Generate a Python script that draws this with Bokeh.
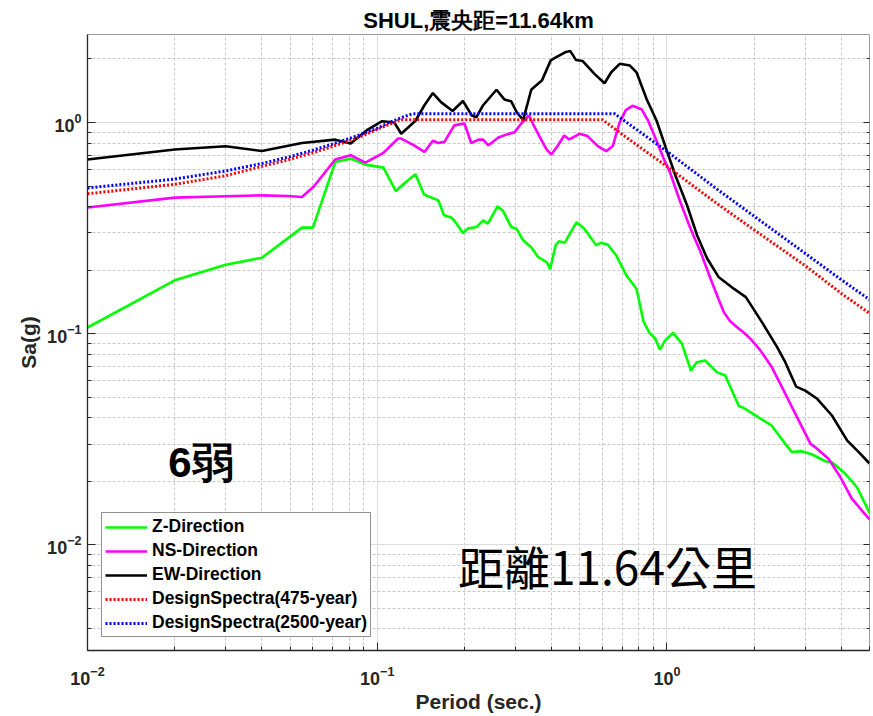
from bokeh.plotting import figure
from bokeh.models import FixedTicker, LogAxis, Label, Range1d, CustomJSTickFormatter
from bokeh.embed import file_html
from bokeh.resources import INLINE

# ---------------- data ----------------
z_period = [0.01, 0.02, 0.03, 0.04, 0.055, 0.06, 0.0716, 0.081, 0.091, 0.105, 0.116, 0.125,
            0.1355, 0.145, 0.1625, 0.17, 0.18, 0.1845, 0.1976, 0.2057, 0.22, 0.232, 0.241,
            0.26, 0.272, 0.29, 0.302, 0.319, 0.34, 0.359, 0.385, 0.395, 0.413, 0.424, 0.444,
            0.487, 0.518, 0.569, 0.593, 0.625, 0.668, 0.724, 0.763, 0.785, 0.80, 0.83, 0.87,
            0.91, 0.946, 0.985, 1.05, 1.124, 1.21, 1.267, 1.353, 1.486, 1.588, 1.767, 1.862,
            2.07, 2.3, 2.56, 2.7, 2.92, 3.17, 3.52, 3.71, 4.13, 4.53, 5.0]
z_sa = [0.107, 0.179, 0.212, 0.229, 0.318, 0.318, 0.65, 0.675, 0.632, 0.612, 0.474, 0.52,
        0.569, 0.456, 0.428, 0.364, 0.355, 0.344, 0.30, 0.315, 0.32, 0.344, 0.332,
        0.401, 0.381, 0.32, 0.315, 0.277, 0.257, 0.231, 0.218, 0.202, 0.263, 0.274, 0.27,
        0.337, 0.315, 0.263, 0.27, 0.264, 0.235, 0.189, 0.172, 0.163, 0.145, 0.114, 0.101,
        0.095, 0.084, 0.093, 0.101, 0.09, 0.067, 0.0733, 0.0747, 0.0658, 0.0634, 0.0457, 0.0441,
        0.0402, 0.0367, 0.0301, 0.0275, 0.0278, 0.0268, 0.0249, 0.0246, 0.0217, 0.0187, 0.0142]

ns_period = [0.01, 0.02, 0.03, 0.04, 0.049, 0.055, 0.0605, 0.0716, 0.081, 0.091, 0.105, 0.118,
             0.121, 0.134, 0.1455, 0.1556, 0.1625, 0.1706, 0.1845, 0.20, 0.211, 0.224, 0.232,
             0.242, 0.262, 0.279, 0.298, 0.314, 0.334, 0.349, 0.363, 0.384, 0.399, 0.419, 0.442,
             0.46, 0.499, 0.532, 0.577, 0.617, 0.65, 0.686, 0.721, 0.76, 0.817, 0.861, 0.921,
             0.972, 1.026, 1.11, 1.205, 1.306, 1.414, 1.5, 1.573, 1.65, 1.75, 1.862, 1.95, 2.1,
             2.3, 2.56, 2.85, 3.13, 3.25, 3.61, 3.97, 4.34, 5.0]
ns_sa = [0.396, 0.441, 0.448, 0.452, 0.449, 0.444, 0.499, 0.668, 0.70, 0.646, 0.718, 0.84,
         0.84, 0.78, 0.726, 0.82, 0.80, 0.81, 0.97, 0.99, 0.80, 0.83, 0.83,
         0.78, 0.85, 0.877, 0.90, 0.99, 1.08, 0.953, 0.86, 0.746, 0.706, 0.774, 0.869,
         0.832, 0.885, 0.863, 0.774, 0.732, 0.774, 1.0, 1.145, 1.2, 1.157, 1.02, 0.817,
         0.68, 0.577, 0.423, 0.315, 0.244, 0.182, 0.148, 0.126, 0.115, 0.107, 0.10, 0.094, 0.0834,
         0.0695, 0.052, 0.0388, 0.0301, 0.029, 0.0256, 0.0209, 0.0166, 0.0132]

ew_period = [0.01, 0.02, 0.03, 0.04, 0.055, 0.0716, 0.081, 0.0927, 0.104, 0.1146, 0.121, 0.1355,
             0.1455, 0.1556, 0.166, 0.182, 0.1976, 0.212, 0.22, 0.232, 0.258, 0.275, 0.29,
             0.304, 0.319, 0.34, 0.3475, 0.37, 0.397, 0.415, 0.448, 0.464, 0.485, 0.512, 0.562,
             0.609, 0.642, 0.687, 0.745, 0.785, 0.851, 0.921, 1.0, 1.067, 1.172, 1.27, 1.376,
             1.51, 1.705, 1.872, 2.14, 2.40, 2.56, 2.79, 3.0, 3.3, 3.71, 4.19, 4.59, 5.0]
ew_sa = [0.668, 0.745, 0.773, 0.733, 0.80, 0.83, 0.795, 0.927, 1.015, 1.0, 0.885, 1.02,
         1.208, 1.38, 1.25, 1.135, 1.265, 1.08, 1.06, 1.208, 1.43, 1.285, 1.26,
         1.11, 1.03, 1.43, 1.468, 1.58, 1.97, 2.04, 2.16, 2.18, 1.98, 1.955, 1.70,
         1.535, 1.73, 1.897, 1.862, 1.73, 1.29, 1.02, 0.732, 0.566, 0.407, 0.293, 0.227,
         0.185, 0.163, 0.149, 0.112, 0.0864, 0.0733, 0.0562, 0.0538, 0.0492, 0.041, 0.0312, 0.0275, 0.0243]

ds475_period = [0.01, 0.02, 0.03, 0.04, 0.05, 0.06, 0.07, 0.08, 0.09, 0.10, 0.11, 0.12,
                0.6, 0.7, 0.8, 1.0, 1.5, 2.0, 3.0, 4.0, 5.0]
ds475_sa = [0.46, 0.51, 0.56, 0.62, 0.67, 0.72, 0.77, 0.82, 0.87, 0.93, 0.98, 1.03,
            1.03, 0.88, 0.77, 0.62, 0.41, 0.31, 0.21, 0.155, 0.125]

ds2500_period = [0.01, 0.02, 0.03, 0.04, 0.05, 0.06, 0.07, 0.08, 0.09, 0.10, 0.11, 0.12, 0.132,
                 0.66, 0.8, 1.0, 1.5, 2.0, 3.0, 4.0, 5.0]
ds2500_sa = [0.49, 0.54, 0.59, 0.64, 0.69, 0.74, 0.79, 0.84, 0.89, 0.94, 1.0, 1.05, 1.10,
             1.10, 0.91, 0.73, 0.48, 0.36, 0.24, 0.18, 0.145]

series_labels = ["Z-Direction", "NS-Direction", "EW-Direction",
                 "DesignSpectra(475-year)", "DesignSpectra(2500-year)"]
decade_ticks = [0.01, 0.1, 1.0]

# ---------------- styling ----------------
FONT = "Liberation Sans"
AX = "#262626"

minor_x = [m * d for d in [0.01, 0.1, 1.0] for m in range(2, 10) if m * d <= 5.0]
minor_y = [m * d for d in [0.001, 0.01, 0.1, 1.0] for m in range(2, 10) if 0.0031 <= m * d <= 2.6]
xticker = FixedTicker(ticks=decade_ticks, minor_ticks=minor_x)
yticker = FixedTicker(ticks=decade_ticks, minor_ticks=minor_y)

p = figure(width=873, height=716, x_axis_type="log", y_axis_type="log",
           x_range=Range1d(0.01, 5.0), y_range=Range1d(10 ** -2.5, 10 ** 0.417),
           output_backend="svg", toolbar_location=None,
           min_border_left=87, min_border_right=4, min_border_top=34, min_border_bottom=66)
p.outline_line_color = "#9a9a9a"
p.outline_line_width = 1
p.background_fill_color = "white"
p.border_fill_color = "white"

p.title.text = "SHUL,震央距=11.64km"
p.title.align = "center"
p.title.text_font = FONT
p.title.text_font_style = "bold"
p.title.text_font_size = "22px"
p.title.text_color = "#000000"
p.title.standoff = 3

for ax, tk in ((p.xaxis[0], xticker), (p.yaxis[0], yticker)):
    ax.ticker = tk
    ax.axis_line_color = AX
    ax.axis_line_width = 1.3
    ax.major_tick_in = 8
    ax.major_tick_out = 0
    ax.minor_tick_in = 4
    ax.minor_tick_out = 0
    ax.major_tick_line_color = AX
    ax.minor_tick_line_color = AX
    ax.major_label_text_font = FONT
    ax.major_label_text_font_style = "bold"
    ax.major_label_text_font_size = "18px"
    ax.major_label_text_color = AX
    ax.axis_label_text_font = FONT
    ax.axis_label_text_font_style = "bold"
    ax.axis_label_text_font_size = "21px"
    ax.axis_label_text_color = AX
p.xaxis[0].major_label_standoff = 15
p.yaxis[0].major_label_standoff = 6
p.xaxis[0].axis_label = "Period (sec.)"
p.xaxis[0].axis_label_standoff = 2
p.yaxis[0].axis_label = "Sa(g)"
p.yaxis[0].axis_label_standoff = 4

blank = CustomJSTickFormatter(code="return ''")
ra = LogAxis(ticker=yticker, formatter=blank, major_label_standoff=0,
             major_label_text_font_size="10px", major_label_text_alpha=0,
             axis_line_color=None, major_tick_in=6, major_tick_out=0,
             minor_tick_in=3, minor_tick_out=0,
             major_tick_line_color=AX, minor_tick_line_color=AX)
p.add_layout(ra, "right")

for g, tk in ((p.xgrid[0], xticker), (p.ygrid[0], yticker)):
    g.ticker = tk
    g.grid_line_color = "#dcdcdc"
    g.grid_line_width = 1
    g.minor_grid_line_color = "#c8c8c8"
    g.minor_grid_line_dash = "3 2"
    g.minor_grid_line_width = 1

# ---------------- series ----------------
p.line(z_period, z_sa, line_color="#00ff00", line_width=2.6, legend_label=series_labels[0])
p.line(ns_period, ns_sa, line_color="#ff00ff", line_width=2.6, legend_label=series_labels[1])
p.line(ew_period, ew_sa, line_color="#000000", line_width=2.6, legend_label=series_labels[2])
p.line(ds475_period, ds475_sa, line_color="#ff0000", line_width=3, line_dash="2 2",
       legend_label=series_labels[3])
p.line(ds2500_period, ds2500_sa, line_color="#0000ff", line_width=3, line_dash="2 2",
       legend_label=series_labels[4])

lg = p.legend[0]
lg.location = (14, 13)
lg.label_text_font = FONT
lg.label_text_font_style = "bold"
lg.label_text_font_size = "17.5px"
lg.label_text_color = "#000000"
lg.label_height = 20
lg.glyph_height = 20
lg.glyph_width = 42
lg.label_standoff = 5
lg.spacing = 3
lg.padding = 3
lg.border_line_color = AX
lg.border_line_width = 1
lg.background_fill_alpha = 1.0

# ---------------- texts ----------------
p.add_layout(Label(x=0.019, y=0.0245, text="6弱", text_align="left", text_baseline="middle",
                   text_font=FONT, text_font_style="bold", text_font_size="42px",
                   text_color="#000000"))
p.add_layout(Label(x=0.19, y=0.00807, text="距離11.64公里", text_align="left",
                   text_baseline="middle", text_font="Noto Sans CJK TC",
                   text_font_size="46px", text_color="#000000"))

open("out.html", "w").write(file_html(p, INLINE))
